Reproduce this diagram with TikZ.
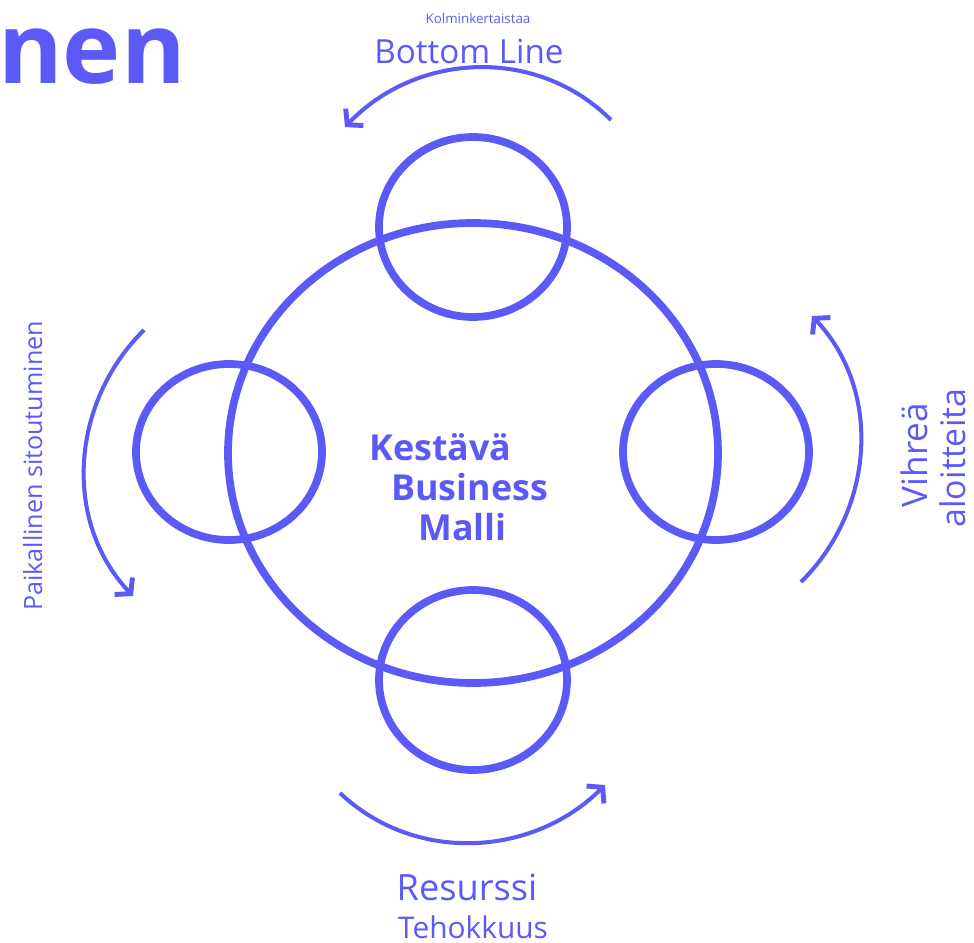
\documentclass[tikz,border=0pt]{standalone}
\usepackage{fontspec}
\setmainfont{Open Sans}
\usetikzlibrary{arrows.meta}
\definecolor{violet}{HTML}{5C5AF7}

\begin{document}
\begin{tikzpicture}[x=0.02cm, y=-0.02cm,
  ring/.style={draw=violet, line width=4.4pt},
  turn/.style={draw=violet, line width=2.3pt, -{Straight Barb[length=6pt, width=14pt, line width=2.8pt]}},
  label/.style={text=violet, inner sep=0pt}]
\useasboundingbox (0,0) rectangle (974,943);

% rings
\draw[ring] (473,453) ellipse (245 and 230);
\draw[ring] (473,227) ellipse (94 and 90);
\draw[ring] (473,680) ellipse (94 and 90);
\draw[ring] (229,452) ellipse (93 and 88);
\draw[ring] (716,452) ellipse (93 and 88);

% ends of the turning arrows
\coordinate (topA) at (611,120);
\coordinate (topB) at (345,127);
\coordinate (rightA) at (801,582);
\coordinate (rightB) at (812,316);
\coordinate (botA) at (340,793);
\coordinate (botB) at (605,785);
\coordinate (leftA) at (144,330);
\coordinate (leftB) at (133,596);

\draw[turn] (topA) .. controls (537,46) and (417,52) .. (topB);
\draw[turn] (rightA) .. controls (874,510) and (883,391) .. (rightB);
\draw[turn] (botA) .. controls (415,864) and (533,857) .. (botB);
\draw[turn] (leftA) .. controls (71,402) and (62,521) .. (leftB);

% texts
\node[label, anchor=base west, font=\fontsize{56}{56}\selectfont\bfseries] (nen) at (-2,83) {nen};
\node[label, anchor=base, font=\fontsize{7.6}{8}\selectfont] (kolm) at (478,23) {Kolminkertaistaa};
\node[label, anchor=base, font=\fontsize{18.9}{20}\selectfont] (bottom) at (469,63) {Bottom Line};

\node[label, anchor=base west, font=\fontsize{20.4}{22}\selectfont\bfseries] (kes) at (369,460) {Kestävä};
\node[label, anchor=base west, font=\fontsize{20.4}{22}\selectfont\bfseries] (bus) at (391,500) {Business};
\node[label, anchor=base west, font=\fontsize{20.4}{22}\selectfont\bfseries] (mal) at (418,540) {Malli};

\node[label, anchor=base, rotate=90, font=\fontsize{20}{22}\selectfont] (vih) at (927,455) {Vihreä};
\node[label, anchor=base, rotate=90, font=\fontsize{19.3}{22}\selectfont] (alo) at (965,458) {aloitteita};
\node[label, anchor=base, rotate=90, font=\fontsize{14.3}{16}\selectfont] (paik) at (42,466) {Paikallinen sitoutuminen};

\node[label, anchor=base, font=\fontsize{20.6}{22}\selectfont] (res) at (467,900) {Resurssi};
\node[label, anchor=base, font=\fontsize{17}{18}\selectfont] (teh) at (473,938) {Tehokkuus};
\end{tikzpicture}
\end{document}
